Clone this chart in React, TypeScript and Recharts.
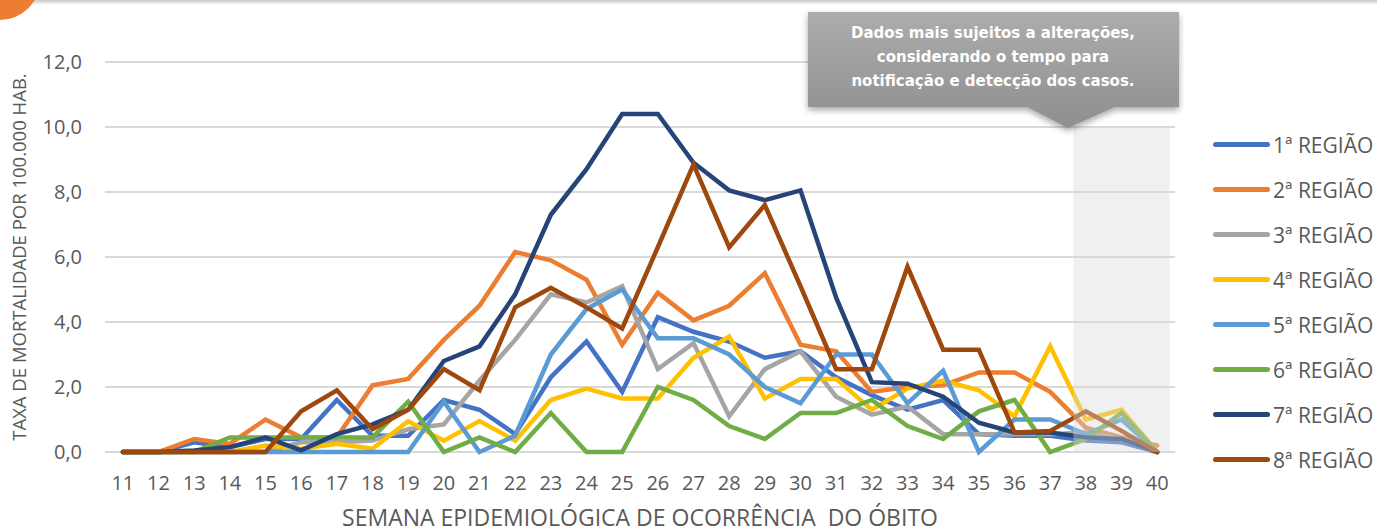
import { CartesianGrid, Line, LineChart, ReferenceArea, XAxis, YAxis } from "recharts";

// Epidemiological weeks on the x axis
const WEEKS = [11, 12, 13, 14, 15, 16, 17, 18, 19, 20, 21, 22, 23, 24, 25, 26, 27, 28, 29, 30, 31, 32, 33, 34, 35, 36, 37, 38, 39, 40];

const Y_TICKS = [0, 2, 4, 6, 8, 10, 12];

const REGIONS = ["1ª REGIÃO", "2ª REGIÃO", "3ª REGIÃO", "4ª REGIÃO", "5ª REGIÃO", "6ª REGIÃO", "7ª REGIÃO", "8ª REGIÃO"];
const COLORS = ["#4472C4", "#ED7D31", "#A5A5A5", "#FFC000", "#5B9BD5", "#70AD47", "#264478", "#9E480E"];

// mortality rate per 100.000 inhabitants, one array per region
const REG1 = [0, 0, 0.3, 0.15, 0.4, 0.4, 1.6, 0.5, 0.5, 1.6, 1.3, 0.55, 2.3, 3.4, 1.85, 4.15, 3.7, 3.4, 2.9, 3.1, 2.3, 1.75, 1.3, 1.6, 0.55, 0.5, 0.5, 0.35, 0.3, 0];
const REG2 = [0, 0, 0.4, 0.25, 1.0, 0.45, 0.45, 2.05, 2.25, 3.45, 4.5, 6.15, 5.9, 5.3, 3.3, 4.9, 4.05, 4.5, 5.5, 3.3, 3.1, 1.85, 2.0, 2.05, 2.45, 2.45, 1.85, 0.75, 0.45, 0.2];
const REG3 = [0, 0, 0, 0, 0, 0.3, 0.3, 0.35, 0.7, 0.85, 2.2, 3.45, 4.85, 4.6, 5.1, 2.55, 3.35, 1.1, 2.55, 3.1, 1.7, 1.15, 1.4, 0.55, 0.55, 0.55, 0.55, 0.6, 0.4, 0];
const REG4 = [0, 0, 0, 0, 0.2, 0.1, 0.25, 0.1, 0.95, 0.35, 0.95, 0.35, 1.6, 1.95, 1.65, 1.65, 2.9, 3.55, 1.65, 2.25, 2.25, 1.3, 1.95, 2.2, 1.9, 1.1, 3.25, 1.0, 1.3, 0];
const REG5 = [0, 0, 0, 0, 0, 0, 0, 0, 0, 1.55, 0, 0.5, 3.0, 4.4, 5.0, 3.5, 3.5, 3.0, 2.0, 1.5, 3.0, 3.0, 1.5, 2.5, 0, 1.0, 1.0, 0.55, 1.0, 0];
const REG6 = [0, 0, 0, 0.45, 0.45, 0.45, 0.45, 0.45, 1.55, 0, 0.45, 0, 1.2, 0, 0, 2.0, 1.6, 0.8, 0.4, 1.2, 1.2, 1.6, 0.8, 0.4, 1.25, 1.6, 0, 0.4, 1.2, 0];
const REG7 = [0, 0, 0.05, 0.15, 0.45, 0.05, 0.55, 0.85, 1.3, 2.8, 3.25, 4.85, 7.3, 8.7, 10.4, 10.4, 8.9, 8.05, 7.75, 8.05, 4.75, 2.15, 2.1, 1.7, 0.9, 0.6, 0.6, 0.45, 0.4, 0];
const REG8 = [0, 0, 0, 0, 0, 1.25, 1.9, 0.7, 1.3, 2.55, 1.9, 4.45, 5.05, 4.45, 3.8, 6.3, 8.85, 6.3, 7.6, 5.1, 2.55, 2.55, 5.7, 3.15, 3.15, 0.6, 0.65, 1.25, 0.65, 0];

const SERIES = [REG1, REG2, REG3, REG4, REG5, REG6, REG7, REG8];

const NOTE_LINES = ["Dados mais sujeitos a alterações,", "considerando o tempo para", "notificação e detecção dos casos."];
const X_TITLE = "SEMANA EPIDEMIOLÓGICA DE OCORRÊNCIA\u00a0 DO ÓBITO";
const Y_TITLE = "TAXA DE MORTALIDADE POR 100.000 HAB.";

const FONT = "'Open Sans', 'Liberation Sans', sans-serif";
const TEXT_GRAY = "#595959";

const rows = WEEKS.map((week, i) => {
  const row: Record<string, number> = { week };
  SERIES.forEach((s, k) => {
    row[`r${k + 1}`] = s[i];
  });
  return row;
});

const fmt = (v: number) => v.toFixed(1).replace(".", ",");

/** Excel-style right legend with line swatches. */
function SideLegend() {
  return (
    <div style={{ position: "absolute", left: 1213, top: 122, fontFamily: FONT }}>
      {REGIONS.map((name, i) => (
        <div key={name} style={{ display: "flex", alignItems: "center", height: 45 }}>
          <span
            style={{
              display: "inline-block",
              width: 57,
              height: 5,
              borderRadius: 3,
              background: COLORS[i],
            }}
          />
          <span style={{ marginLeft: 3, fontSize: 21, color: TEXT_GRAY, whiteSpace: "nowrap" }}>{name}</span>
        </div>
      ))}
    </div>
  );
}

/** Gray callout box pointing at the shaded recent weeks. */
function NoteCallout() {
  return (
    <svg width={1377} height={140} style={{ position: "absolute", left: 0, top: 0, pointerEvents: "none" }}>
      <defs>
        <linearGradient id="noteFill" x1="0" y1="0" x2="0" y2="1">
          <stop offset="0%" stopColor="#acacac" />
          <stop offset="100%" stopColor="#8f8f8f" />
        </linearGradient>
        <filter id="noteShadow" x="-10%" y="-20%" width="120%" height="150%">
          <feDropShadow dx="0" dy="3" stdDeviation="3" floodColor="#000" floodOpacity="0.35" />
        </filter>
        <linearGradient id="topBar" x1="0" y1="0" x2="0" y2="1">
          <stop offset="0%" stopColor="#c8c8c8" />
          <stop offset="100%" stopColor="#ffffff" />
        </linearGradient>
      </defs>
      <rect x={0} y={0} width={1377} height={5} fill="url(#topBar)" />
      <circle cx={0} cy={-20} r={40} fill="#ED7D31" />
      <path
        d="M808,12 L1179,12 L1179,107 L1115,107 L1068,128 L1027,107 L808,107 Z"
        fill="url(#noteFill)"
        filter="url(#noteShadow)"
      />
      {NOTE_LINES.map((line, i) => (
        <text
          key={line}
          x={993}
          y={38 + i * 24}
          textAnchor="middle"
          fill="#ffffff"
          fontFamily="'DejaVu Sans', sans-serif"
          fontWeight="bold"
          fontSize={15}
        >
          {line}
        </text>
      ))}
    </svg>
  );
}

export default function App() {
  return (
    <div
      style={{
        position: "absolute",
        left: 0,
        top: 0,
        width: 1377,
        height: 531,
        overflow: "hidden",
        background: "#fff",
      }}
    >
      <LineChart width={1377} height={531} data={rows} margin={{ top: 62, right: 202, bottom: 0, left: 0 }}>
        <CartesianGrid vertical={false} stroke="#d9d9d9" strokeWidth={2} />
        <XAxis
          dataKey="week"
          type="number"
          domain={[10.5, 40.5]}
          ticks={WEEKS}
          interval={0}
          axisLine={false}
          tickLine={false}
          height={79}
          tickMargin={18}
          tick={{ fill: TEXT_GRAY, fontSize: 20, fontFamily: FONT }}
          label={{
            value: X_TITLE,
            position: "insideBottom",
            offset: 5,
            fill: TEXT_GRAY,
            fontSize: 23,
            fontFamily: FONT,
          }}
        />
        <YAxis
          type="number"
          domain={[0, 12]}
          ticks={Y_TICKS}
          tickFormatter={fmt}
          axisLine={false}
          tickLine={false}
          width={105}
          tickMargin={17}
          tick={{ fill: TEXT_GRAY, fontSize: 20, fontFamily: FONT }}
          label={{
            value: Y_TITLE,
            angle: -90,
            position: "insideLeft",
            offset: 19,
            fill: TEXT_GRAY,
            fontSize: 18.5,
            fontFamily: FONT,
            style: { textAnchor: "middle" },
          }}
        />
        {REGIONS.map((name, i) => (
          <Line
            key={name}
            name={name}
            dataKey={`r${i + 1}`}
            stroke={COLORS[i]}
            strokeWidth={4.5}
            strokeLinecap="round"
            dot={false}
            activeDot={false}
            isAnimationActive={false}
          />
        ))}
        <ReferenceArea
          x1={37.65}
          x2={40.35}
          y1={0}
          y2={10}
          fill="#d9d9d9"
          fillOpacity={0.4}
          stroke="none"
          zIndex={450}
        />
      </LineChart>
      <SideLegend />
      <NoteCallout />
    </div>
  );
}
